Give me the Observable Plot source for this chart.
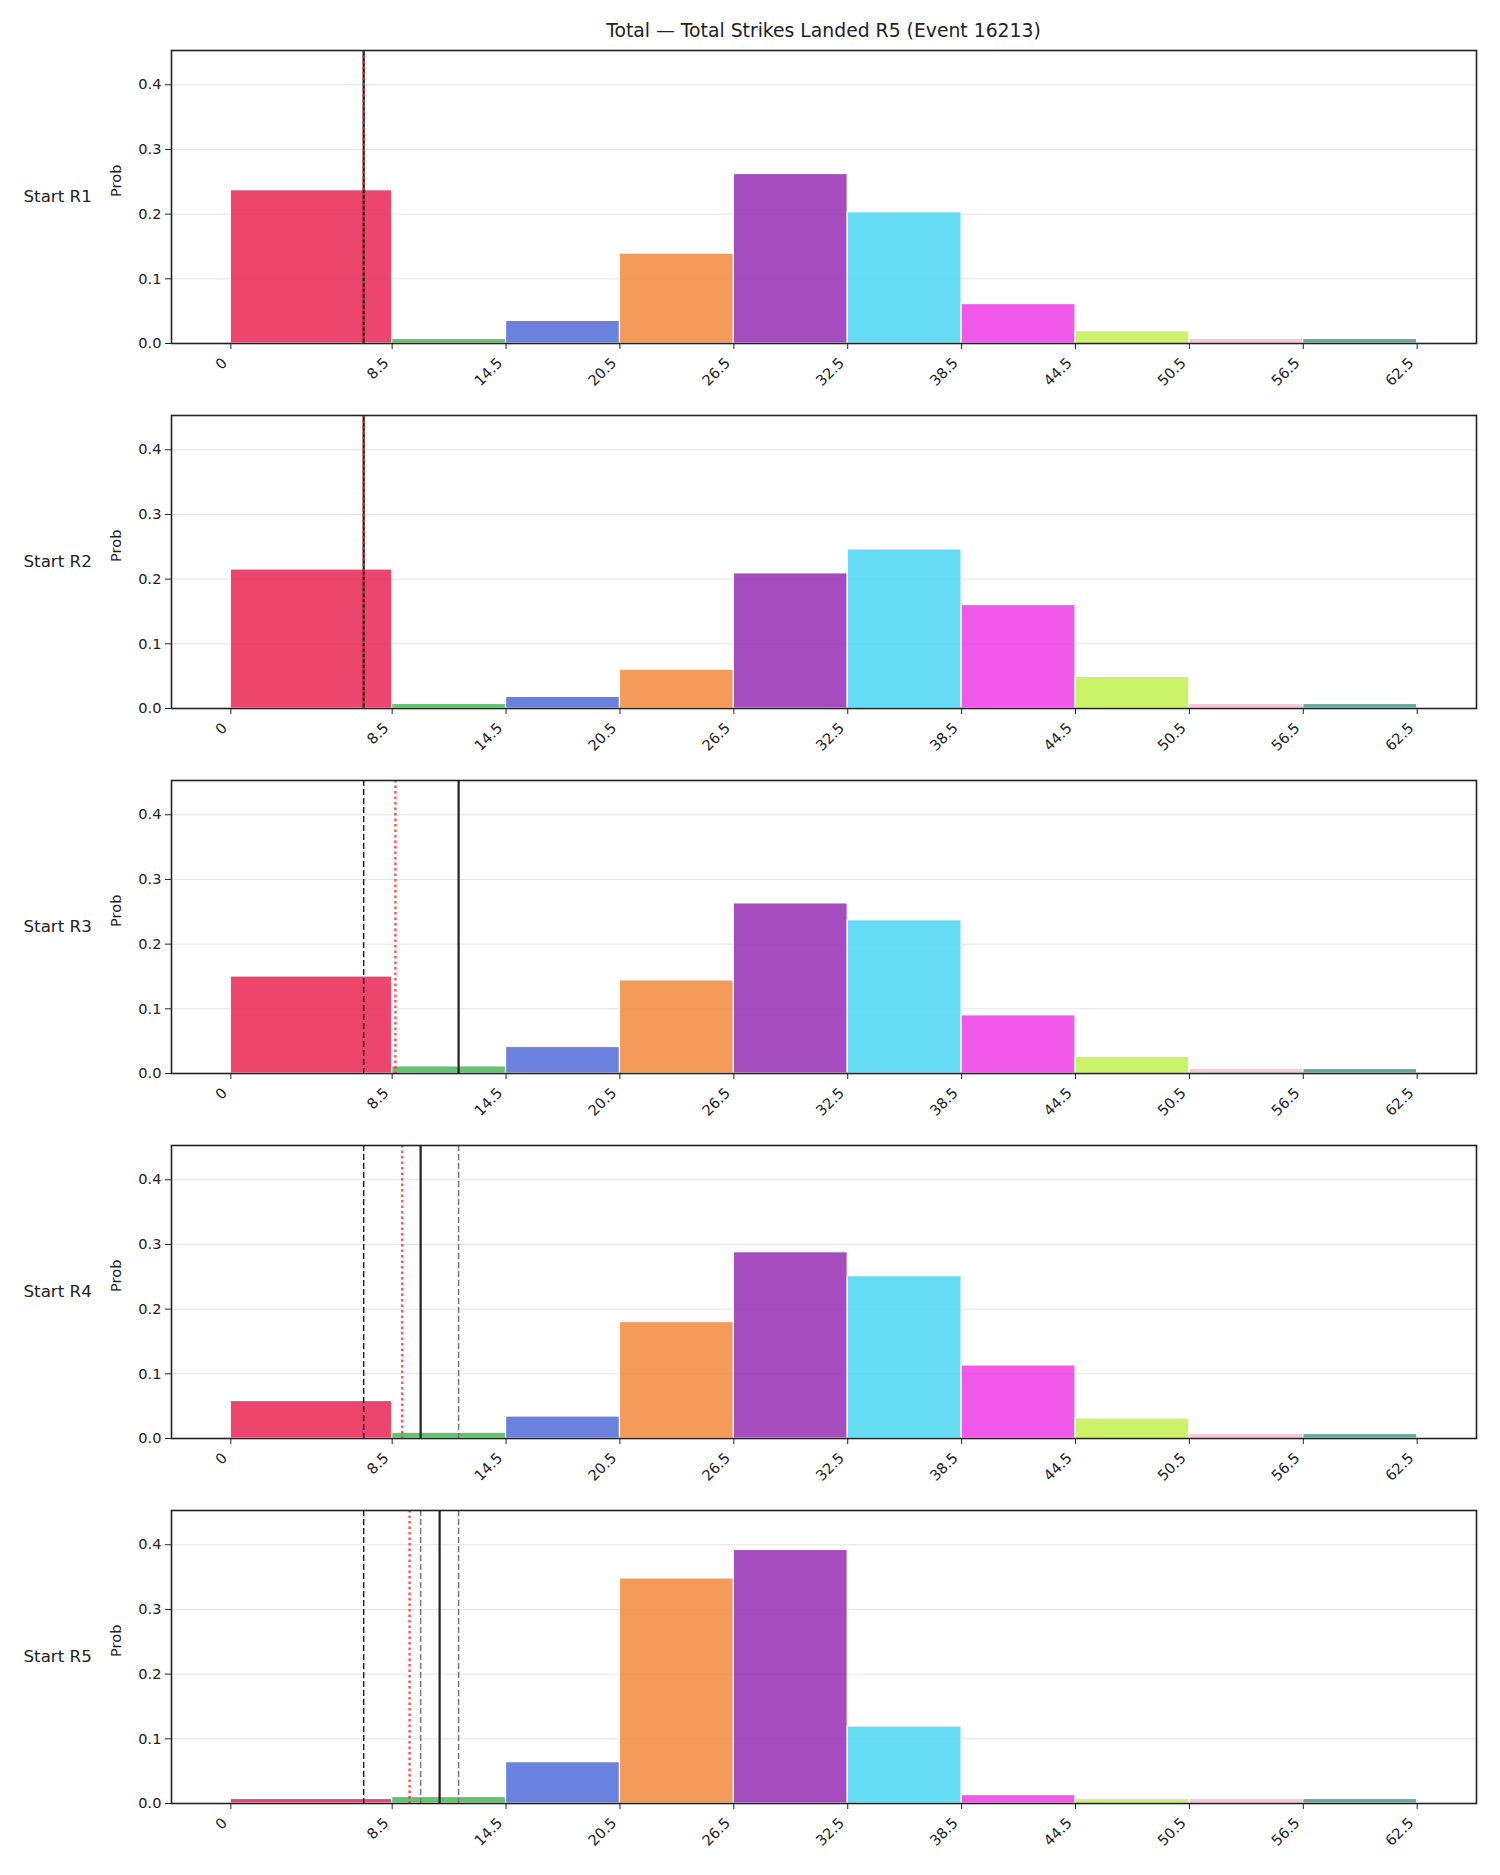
<!DOCTYPE html>
<html>
<head>
<meta charset="utf-8">
<script src="https://cdn.jsdelivr.net/npm/d3@7"></script>
<script src="https://cdn.jsdelivr.net/npm/@observablehq/plot@0.6"></script>
<style>
  html, body { margin: 0; padding: 0; background: white; }
  #chart { position: relative; width: 1500px; height: 1875px; font-family: "DejaVu Sans", sans-serif; color: #222; }
  #title { position: absolute; left: 171px; width: 1305px; top: 20px; line-height: 22px; text-align: center; font-size: 18.8px; }
  .panel { position: absolute; left: 0; }
</style>
</head>
<body>
<div id="chart">
  <div id="title">Total — Total Strikes Landed R5 (Event 16213)</div>
</div>
<script>
// Bin edges for total strikes landed (bins: 0–8.5, 8.5–14.5, …, 56.5–62.5)
const binEdges = [0, 8.5, 14.5, 20.5, 26.5, 32.5, 38.5, 44.5, 50.5, 56.5, 62.5];
const binColors = ["#e92857", "#48b856", "#516ed8", "#f38b3e", "#962eb4",
                   "#4dd6f3", "#f03de5", "#c4f050", "#f8bed2", "#4c9a8f"];

const roundLabels = ["Start R1", "Start R2", "Start R3", "Start R4", "Start R5"];

// Probability of each bin, one array per starting round
const probR1 = [0.237, 0.007, 0.035, 0.139, 0.262, 0.203, 0.061, 0.019, 0.007, 0.007];
const probR2 = [0.215, 0.007, 0.018, 0.060, 0.209, 0.246, 0.160, 0.049, 0.007, 0.007];
const probR3 = [0.150, 0.011, 0.041, 0.144, 0.263, 0.237, 0.090, 0.026, 0.007, 0.007];
const probR4 = [0.058, 0.009, 0.034, 0.180, 0.288, 0.251, 0.113, 0.031, 0.007, 0.007];
const probR5 = [0.007, 0.010, 0.064, 0.348, 0.392, 0.119, 0.013, 0.007, 0.007, 0.007];
const probsByRound = [probR1, probR2, probR3, probR4, probR5];

// Reference markers per round
const lineLine = [7, 7, 7, 7, 7];                 // black dashed
const meanLine = [7, 7, 8.67, 9.03, 9.42];        // red dotted
const currentLine = [7, 7, 12, 10, 11];           // solid black
const priorLines = [[], [], [], [12], [10, 12]];  // grey dashed

const chart = document.getElementById("chart");
const panelTop = 50, panelStep = 365, marginTop = 10;

roundLabels.forEach((label, i) => {
  const rows = binEdges.slice(0, -1).map((x1, j) => ({
    x1, x2: binEdges[j + 1], p: probsByRound[i][j], color: binColors[j]
  }));
  const svg = Plot.plot({
    width: 1500,
    height: 365,
    marginTop,
    marginBottom: 62,
    marginLeft: 171,
    marginRight: 24,
    x: {domain: [-3.125, 65.625]},
    y: {domain: [0, 0.453]},
    color: {type: "identity"},
    style: {fontFamily: "DejaVu Sans", fontSize: "14.6px", color: "#222", background: "transparent"},
    marks: [
      Plot.gridY([0.1, 0.2, 0.3, 0.4], {stroke: "#e4e4e4", strokeOpacity: 1, strokeWidth: 1}),
      Plot.rectY(rows, {x1: "x1", x2: "x2", y1: 0, y2: "p", fill: "color", fillOpacity: 0.86,
                        stroke: "white", strokeWidth: 1.2}),
      Plot.ruleX(priorLines[i], {stroke: "#777", strokeWidth: 1.5, strokeDasharray: "6,3"}),
      Plot.ruleX([lineLine[i]], {stroke: "#222", strokeWidth: 1.5, strokeDasharray: "6,3"}),
      Plot.ruleX([currentLine[i]], {stroke: "#222", strokeWidth: 2.2}),
      Plot.ruleX([meanLine[i]], {stroke: "#ff2a2a", strokeOpacity: 0.8, strokeWidth: 2.5, strokeDasharray: "2.5,3"}),
      Plot.frame({stroke: "#222", strokeWidth: 1.6}),
      Plot.axisY({ticks: [0, 0.1, 0.2, 0.3, 0.4], tickFormat: ".1f", tickSize: 6, tickPadding: 4, label: null}),
      // tick marks only
      Plot.axisX({ticks: binEdges, tickFormat: () => "", tickSize: 6, label: null}),
      // rotated tick labels, set a little lower and left of each tick
      Plot.axisX({ticks: binEdges, tickFormat: d => String(d), tickRotate: -45, tickSize: 0, tickPadding: 17, dx: -6, label: null}),
      Plot.text([label], {frameAnchor: "left", dx: -148, textAnchor: "start", fontSize: 16.7}),
      Plot.text(["Prob"], {frameAnchor: "left", dx: -55, rotate: -90, fontSize: 14.6})
    ]
  });
  svg.classList.add("panel");
  svg.style.top = (panelTop + panelStep * i - marginTop) + "px";
  chart.appendChild(svg);
});
</script>
</body>
</html>
